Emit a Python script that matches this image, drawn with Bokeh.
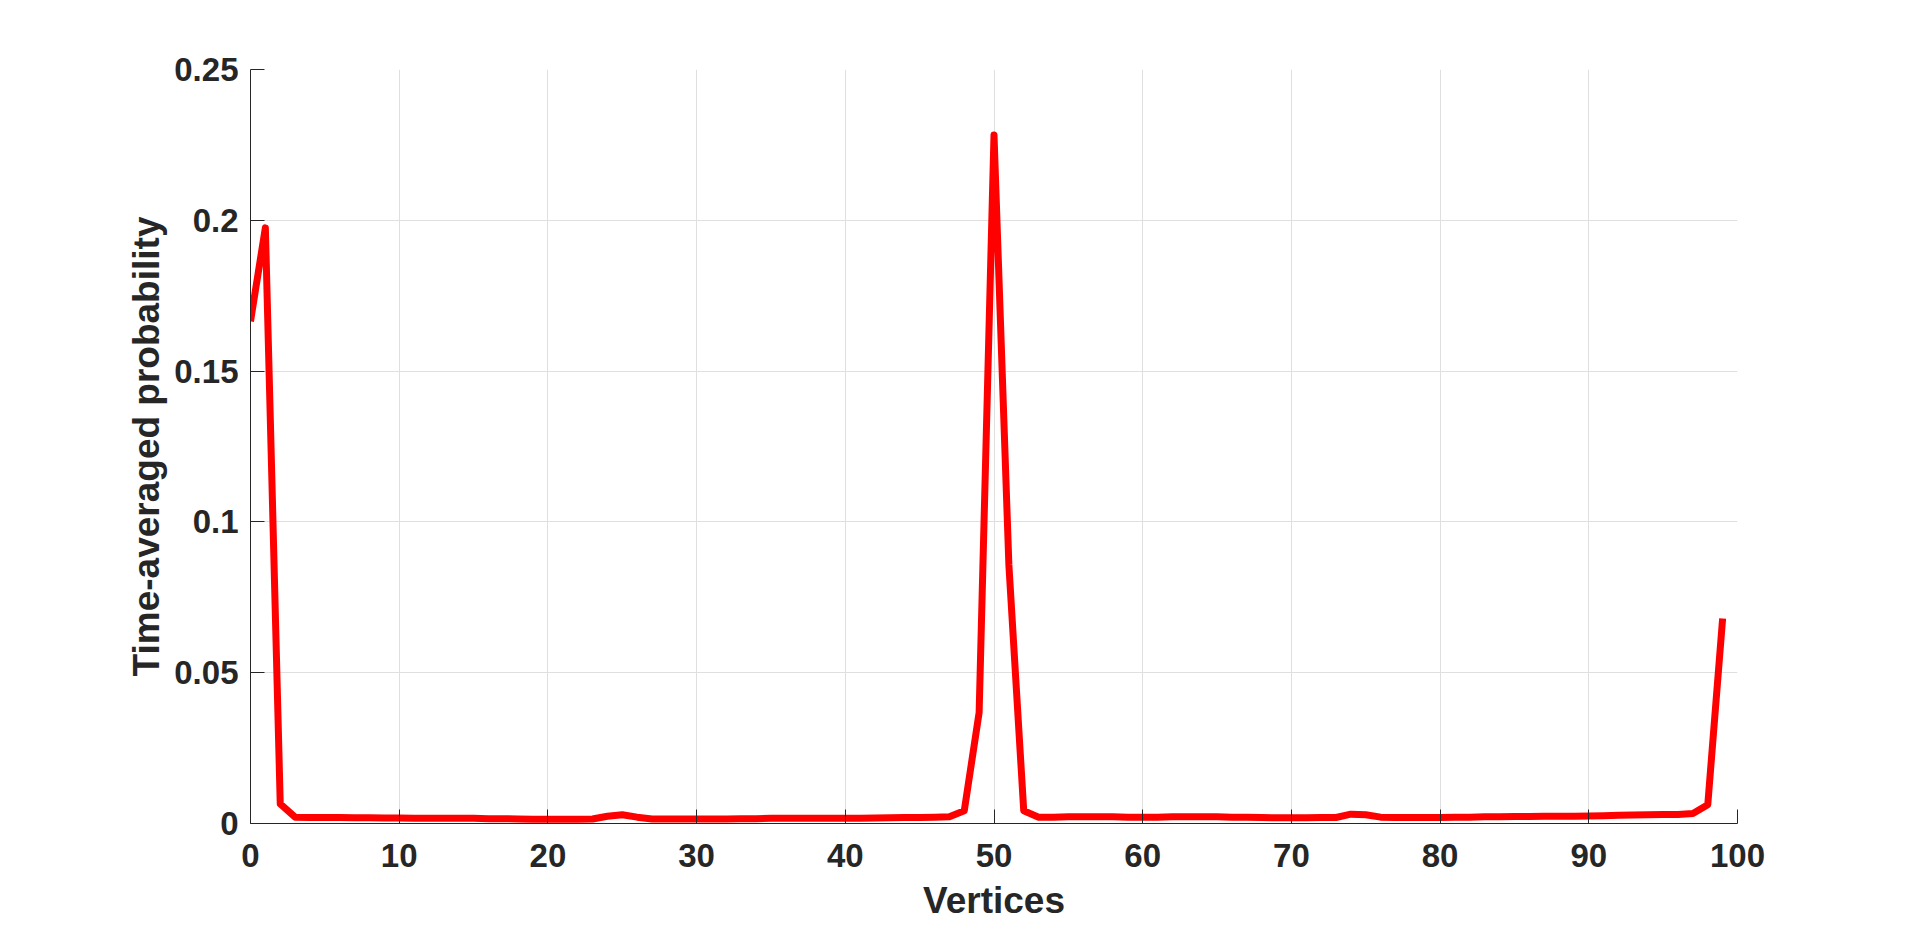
from bokeh.plotting import figure
from bokeh.models import Range1d, FixedTicker, CustomJSTickFormatter, ColumnDataSource
from bokeh.embed import file_html
from bokeh.resources import INLINE

# ---- data ----
vertices = list(range(100))
probability = [
    0.1665, 0.1975, 0.0065, 0.0021,
    0.0020, 0.0020, 0.0020, 0.0019, 0.0019, 0.0018,
    0.0018, 0.0017, 0.0017, 0.0017, 0.0017, 0.0017, 0.0016, 0.0016, 0.0015, 0.0014,
    0.0014, 0.0014, 0.0014, 0.0015,
    0.0024, 0.0029, 0.0021, 0.0015,
    0.0015, 0.0015, 0.0015, 0.0015, 0.0015, 0.0016, 0.0016, 0.0017, 0.0017, 0.0017,
    0.0017, 0.0017, 0.0017, 0.0017, 0.0018, 0.0019, 0.0020, 0.0020, 0.0021,
    0.0022, 0.0042, 0.0368, 0.2283, 0.0858, 0.0042, 0.0021,
    0.0021, 0.0022, 0.0022, 0.0022, 0.0022, 0.0021, 0.0021, 0.0021, 0.0022, 0.0022,
    0.0022, 0.0022, 0.0021, 0.0021, 0.0020, 0.0019, 0.0019, 0.0019, 0.0020, 0.0020,
    0.0031, 0.0029, 0.0021, 0.0020,
    0.0020, 0.0020, 0.0020, 0.0021, 0.0021, 0.0022, 0.0022, 0.0023, 0.0023, 0.0024,
    0.0024, 0.0024, 0.0025, 0.0026, 0.0027, 0.0028, 0.0029, 0.0030,
    0.0030, 0.0033, 0.0062, 0.0680,
]
x_ticks = [0, 10, 20, 30, 40, 50, 60, 70, 80, 90, 100]
y_ticks = [0, 0.05, 0.1, 0.15, 0.2, 0.25]
x_label = "Vertices"
y_label = "Time-averaged probability"

TEXT = "#262626"
FONT = "Liberation Sans"

src = ColumnDataSource(data=dict(x=vertices, y=probability))

p = figure(width=1912, height=924, output_backend="svg", toolbar_location=None,
           x_range=Range1d(0, 100), y_range=Range1d(0, 0.25),
           min_border_left=250, min_border_right=175, min_border_top=69, min_border_bottom=101)
p.outline_line_color = None
p.background_fill_color = "white"
p.border_fill_color = "white"

p.line("x", "y", source=src, line_color="#ff0000", line_width=7, line_join="round")

for ax in (p.xaxis[0], p.yaxis[0]):
    ax.axis_line_color = TEXT
    ax.axis_line_width = 1
    ax.major_tick_line_color = TEXT
    ax.major_tick_in = 14
    ax.major_tick_out = 0
    ax.minor_tick_line_color = None
    ax.major_label_text_font = FONT
    ax.major_label_text_font_style = "bold"
    ax.major_label_text_font_size = "33px"
    ax.major_label_text_color = TEXT
    ax.axis_label_text_font = FONT
    ax.axis_label_text_font_style = "bold"
    ax.axis_label_text_font_size = "37px"
    ax.axis_label_text_color = TEXT
    ax.formatter = CustomJSTickFormatter(code="return String(Math.round(tick*10000)/10000);")

p.xaxis[0].ticker = FixedTicker(ticks=x_ticks)
p.yaxis[0].ticker = FixedTicker(ticks=y_ticks)
p.xaxis[0].axis_label = x_label
p.yaxis[0].axis_label = y_label
p.xaxis[0].major_label_standoff = 20
p.xaxis[0].axis_label_standoff = 10
p.yaxis[0].major_label_standoff = 12
p.yaxis[0].axis_label_standoff = 4

p.xgrid.ticker = FixedTicker(ticks=x_ticks)
p.ygrid.ticker = FixedTicker(ticks=y_ticks)
p.grid.grid_line_color = "#dfdfdf"
p.grid.grid_line_width = 1

open("out.html", "w").write(file_html(p, INLINE))
